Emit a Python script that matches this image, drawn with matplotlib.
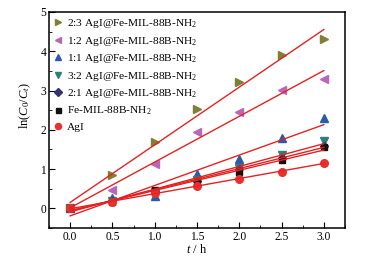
import numpy as np
import matplotlib

matplotlib.use("Agg")
import matplotlib.pyplot as plt

plt.rcParams["font.family"] = ["Liberation Serif", "DejaVu Serif"]
plt.rcParams["mathtext.fontset"] = "custom"
plt.rcParams["mathtext.rm"] = "Liberation Serif"
plt.rcParams["mathtext.it"] = "Liberation Serif:italic"

t_hours = [0.0, 0.5, 1.0, 1.5, 2.0, 2.5, 3.0]

labels = [
    "2:3 AgI@Fe-MIL-88B-NH$_2$",
    "1:2 AgI@Fe-MIL-88B-NH$_2$",
    "1:1 AgI@Fe-MIL-88B-NH$_2$",
    "3:2 AgI@Fe-MIL-88B-NH$_2$",
    "2:1 AgI@Fe-MIL-88B-NH$_2$",
    "Fe-MIL-88B-NH$_2$",
    "AgI",
]

ratio_2_3 = [0.0, 0.84, 1.69, 2.52, 3.22, 3.90, 4.30]
ratio_1_2 = [0.0, 0.47, 1.14, 1.95, 2.45, 3.02, 3.30]
ratio_1_1 = [0.0, 0.27, 0.31, 0.88, 1.26, 1.78, 2.29]
ratio_3_2 = [0.0, 0.20, 0.42, 0.72, 1.02, 1.37, 1.72]
ratio_2_1 = [0.0, 0.18, 0.45, 0.70, 1.00, 1.28, 1.60]
fe_mil = [0.0, 0.17, 0.46, 0.67, 0.92, 1.22, 1.55]
agi = [0.0, 0.17, 0.38, 0.57, 0.76, 0.93, 1.16]

series = [ratio_2_3, ratio_1_2, ratio_1_1, ratio_3_2, ratio_2_1, fe_mil, agi]
markers = [">", "<", "^", "v", "D", "s", "o"]
colors = ["#7f7f35", "#b967b9", "#2a5aa8", "#2e7f7c", "#33336e", "#111111", "#e8312f"]
sizes = [6, 6, 6, 6, 4.5, 4.5, 5.5]

fig = plt.figure(figsize=(3.7, 2.57), dpi=100)
ax = fig.add_axes([49 / 370, 1 - 228 / 257, 296 / 370, 216 / 257])

x = np.array(t_hours)
for y, m, c, s, lab in zip(series, markers, colors, sizes, labels):
    ax.plot(x, y, linestyle="none", marker=m, color=c, markersize=s, label=lab)

# linear fits drawn on top
for y in series:
    k, b = np.polyfit(x, y, 1)
    ax.plot([0, 3], [b, 3 * k + b], color="#e52222", linewidth=1.0)

ax.set_xlim(-0.25, 3.23)
ax.set_ylim(-0.5, 5)
ax.set_xticks([0, 0.5, 1, 1.5, 2, 2.5, 3])
ax.set_xticks(np.arange(-0.25, 3.3, 0.25), minor=True)
ax.set_yticks([0, 1, 2, 3, 4, 5])
ax.set_yticks(np.arange(-0.5, 5.1, 0.5), minor=True)
ax.xaxis.set_major_formatter(matplotlib.ticker.FormatStrFormatter("%.1f"))
ax.tick_params(direction="in", which="both", labelsize=8.3, pad=2)
ax.tick_params(which="major", length=4)
ax.tick_params(which="minor", length=2)
for sp in ax.spines.values():
    sp.set_linewidth(1.1)

ax.set_xlabel("$\\it{t}$ / h", fontsize=9, labelpad=0)
ax.set_ylabel("ln($\\it{C}_{\\it{0}}$/$\\it{C}_{\\it{t}}$)", fontsize=9)
ax.yaxis.set_label_coords(-0.055, 0.565)

ax.legend(loc="upper left", frameon=False, fontsize=8.2, handlelength=0.6,
          handletextpad=0.5, labelspacing=0.4, borderaxespad=0.05,
          markerscale=0.8, bbox_to_anchor=(0.0, 1.0))

fig.savefig("out.png", dpi=100)
